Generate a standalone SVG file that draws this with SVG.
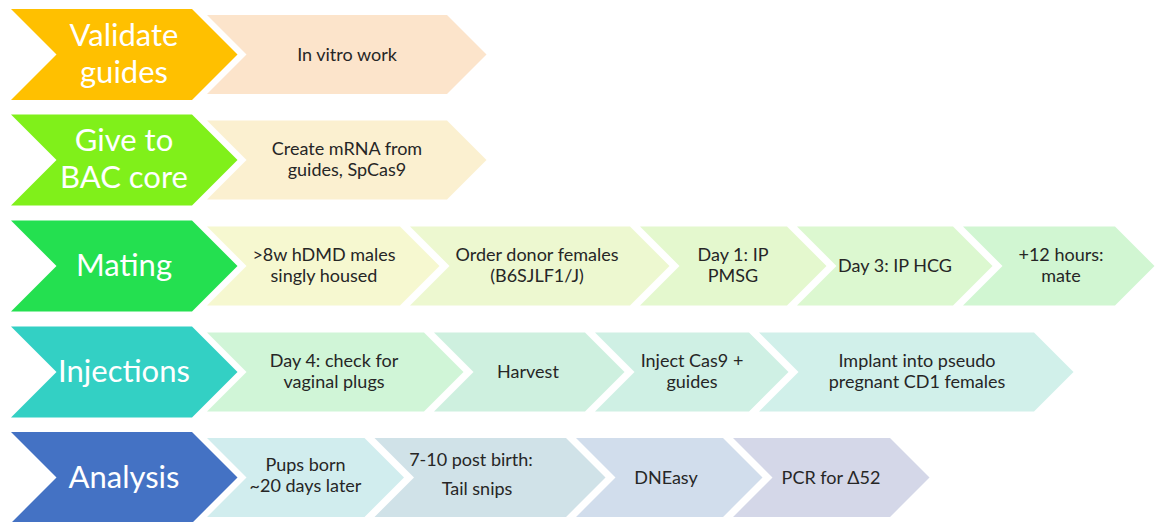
<svg xmlns="http://www.w3.org/2000/svg" width="1155" height="522" viewBox="0 0 1155 522">
<style>
.big{font-family:Lato,"Liberation Sans",sans-serif;font-size:31px;fill:#ffffff;text-anchor:middle}
.sm{font-family:Lato,"Liberation Sans",sans-serif;font-size:18px;fill:#262626;text-anchor:middle}
</style>
<rect width="1155" height="522" fill="#ffffff"/>
<g id="row-validate">
<g id="validate-guides"><polygon points="11,9 192,9 237.5,54.5 192,100 11,100 56.5,54.5" fill="#FFC000"/><text class="big" x="124" y="45.5">Validate</text><text class="big" x="124" y="82.5">guides</text></g>
<g id="in-vitro"><polygon points="207,15 447,15 486.5,54.5 447,94 207,94 246.5,54.5" fill="#FCE4CB"/><text class="sm" x="347" y="60.5">In vitro work</text></g>
</g>
<g id="row-bac">
<g id="give-bac"><polygon points="11,114.5 192,114.5 237.5,160 192,205.5 11,205.5 56.5,160" fill="#80F01A"/><text class="big" x="124" y="151">Give to</text><text class="big" x="124" y="188">BAC core</text></g>
<g id="create-mrna"><polygon points="207,120.5 447,120.5 486.5,160 447,199.5 207,199.5 246.5,160" fill="#FBF0D0"/><text class="sm" x="347" y="155">Create mRNA from</text><text class="sm" x="347" y="176">guides, SpCas9</text></g>
</g>
<g id="row-mating">
<g id="mating"><polygon points="11,220.5 192,220.5 237.5,266 192,311.5 11,311.5 56.5,266" fill="#24E050"/><text class="big" x="124" y="276">Mating</text></g>
<g id="males"><polygon points="207,226.5 400,226.5 439.5,266 400,305.5 207,305.5 246.5,266" fill="#F6F8D0"/><text class="sm" x="324" y="261">&gt;8w hDMD males</text><text class="sm" x="324" y="282">singly housed</text></g>
<g id="donor"><polygon points="410,226.5 630,226.5 669.5,266 630,305.5 410,305.5 449.5,266" fill="#EDF8D0"/><text class="sm" x="537" y="261">Order donor females</text><text class="sm" x="537" y="282">(B6SJLF1/J)</text></g>
<g id="day1"><polygon points="640,226.5 787,226.5 826.5,266 787,305.5 640,305.5 679.5,266" fill="#E4F8CE"/><text class="sm" x="733" y="261">Day 1: IP</text><text class="sm" x="733" y="282">PMSG</text></g>
<g id="day3"><polygon points="797,226.5 953,226.5 992.5,266 953,305.5 797,305.5 836.5,266" fill="#DCF8D0"/><text class="sm" x="895" y="272">Day 3: IP HCG</text></g>
<g id="mate"><polygon points="963,226.5 1115,226.5 1154.5,266 1115,305.5 963,305.5 1002.5,266" fill="#D1F6D2"/><text class="sm" x="1061" y="261">+12 hours:</text><text class="sm" x="1061" y="282">mate</text></g>
</g>
<g id="row-injections">
<g id="injections"><polygon points="11,326.5 192,326.5 237.5,372 192,417.5 11,417.5 56.5,372" fill="#33D0C4"/><text class="big" x="124" y="382">Injections</text></g>
<g id="day4"><polygon points="207,332.5 424,332.5 463.5,372 424,411.5 207,411.5 246.5,372" fill="#D0F5D7"/><text class="sm" x="334" y="367">Day 4: check for</text><text class="sm" x="334" y="388">vaginal plugs</text></g>
<g id="harvest"><polygon points="434,332.5 585,332.5 624.5,372 585,411.5 434,411.5 473.5,372" fill="#CEF0DF"/><text class="sm" x="528" y="378">Harvest</text></g>
<g id="inject"><polygon points="595,332.5 749,332.5 788.5,372 749,411.5 595,411.5 634.5,372" fill="#CFF0E4"/><text class="sm" x="692" y="367">Inject Cas9 +</text><text class="sm" x="692" y="388">guides</text></g>
<g id="implant"><polygon points="759,332.5 1034,332.5 1073.5,372 1034,411.5 759,411.5 798.5,372" fill="#D1F0EA"/><text class="sm" x="917" y="367">Implant into pseudo</text><text class="sm" x="917" y="388">pregnant CD1 females</text></g>
</g>
<g id="row-analysis">
<g id="analysis"><polygon points="11,432 192,432 237.5,477.5 192,523 11,523 56.5,477.5" fill="#4472C4"/><text class="big" x="124" y="487.5">Analysis</text></g>
<g id="pups"><polygon points="207,438 364.5,438 404,477.5 364.5,517 207,517 246.5,477.5" fill="#D1EDEE"/><text class="sm" x="305.5" y="471">Pups born</text><text class="sm" x="305.5" y="492">~20 days later</text></g>
<g id="tail"><polygon points="374.5,438 566,438 605.5,477.5 566,517 374.5,517 414,477.5" fill="#D0E2E8"/><text class="sm" x="471" y="466">7-10 post birth:</text><text class="sm" x="477" y="495">Tail snips</text></g>
<g id="dneasy"><polygon points="576,438 723,438 762.5,477.5 723,517 576,517 615.5,477.5" fill="#D1DDEC"/><text class="sm" x="666" y="483.5">DNEasy</text></g>
<g id="pcr"><polygon points="733,438 890,438 929.5,477.5 890,517 733,517 772.5,477.5" fill="#D4D7E8"/><text class="sm" x="831" y="483.5">PCR for Δ52</text></g>
</g>
<g id="connectors"/>
</svg>
